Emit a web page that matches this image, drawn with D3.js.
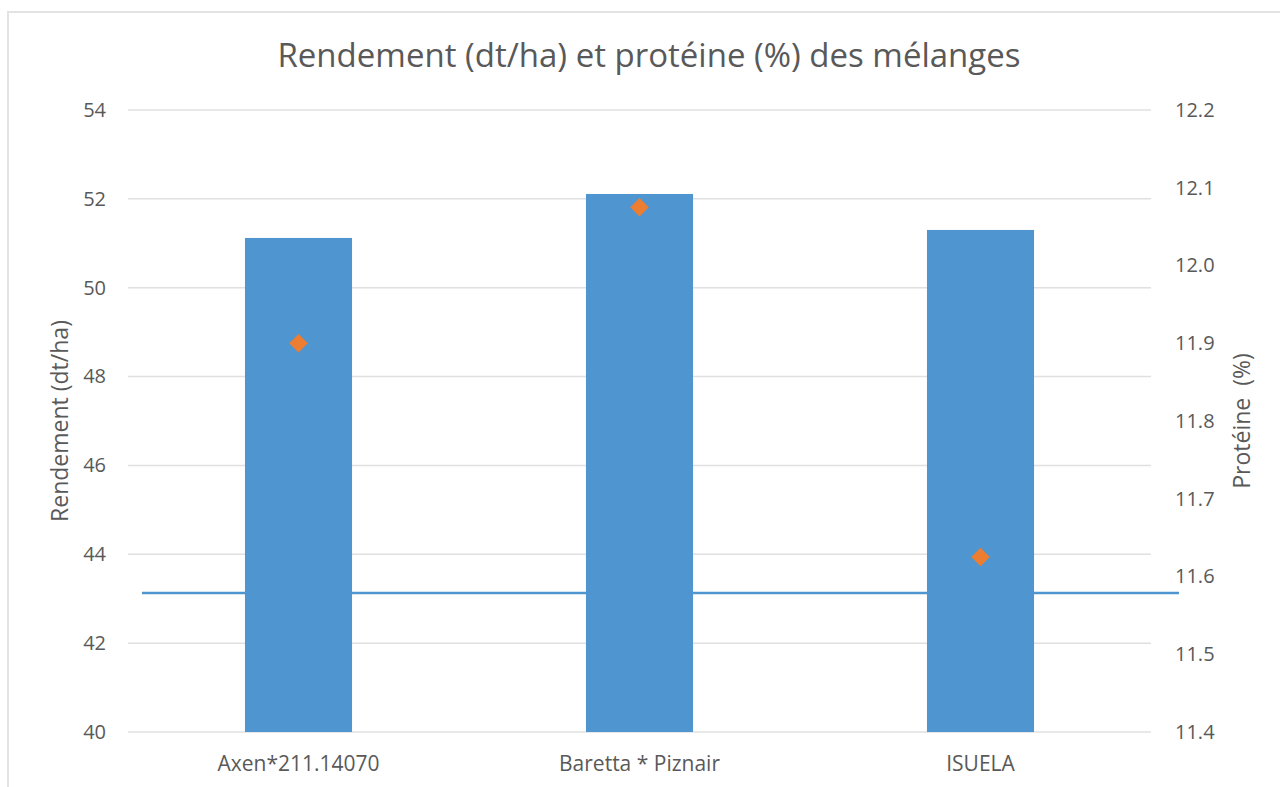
<!DOCTYPE html>
<html>
<head>
<meta charset="utf-8">
<script src="https://cdn.jsdelivr.net/npm/d3@7"></script>
<style>
  body { margin: 0; background: #fff; }
  text { font-family: "Open Sans", Lato, sans-serif; fill: #595959; }
</style>
</head>
<body>
<div id="visualization"></div>
<script>
// chart data
const categories = ["Axen*211.14070", "Baretta * Piznair", "ISUELA"];
const rendement = [51.12, 52.11, 51.30];      // bars, left axis (dt/ha)
const proteine = [11.90, 12.075, 11.625];     // diamonds, right axis (%)
const refLine = 43.13;                        // horizontal line, left axis
const leftTicks = [40, 42, 44, 46, 48, 50, 52, 54];
const rightTicks = [11.4, 11.5, 11.6, 11.7, 11.8, 11.9, 12.0, 12.1, 12.2];

function main(){
    let width = 1280;
    let height = 787;
    let plot = {left: 128, right: 1151, top: 110, bottom: 732};
    let font = '"Open Sans", Lato, sans-serif';

    let svg = d3.select(document.getElementById('visualization'))
        .append('svg')
        .attr('width', width)
        .attr('height', height);

    // chart frame
    svg.append('rect')
        .attr('x', 8).attr('y', 12)
        .attr('width', width + 10).attr('height', height + 10)
        .attr('fill', 'none')
        .attr('stroke', '#e3e3e3')
        .attr('stroke-width', 2);

    let x = d3.scaleBand()
        .domain(categories)
        .range([plot.left, plot.right])
        .padding(0);

    let yLeft = d3.scaleLinear().domain([40, 54]).range([plot.bottom, plot.top]);
    let yRight = d3.scaleLinear().domain([11.4, 12.2]).range([plot.bottom, plot.top]);

    // gridlines
    svg.append('g')
        .selectAll('line')
        .data(leftTicks)
        .enter()
        .append('line')
            .attr('x1', plot.left)
            .attr('x2', plot.right)
            .attr('y1', (d) => yLeft(d))
            .attr('y2', (d) => yLeft(d))
            .attr('stroke', '#e0e0e0')
            .attr('stroke-width', 1.5);

    // left axis labels
    let leftAxis = d3.axisLeft(yLeft).tickValues(leftTicks).tickSize(0).tickPadding(22);
    let gl = svg.append('g').attr('transform', `translate(${plot.left},0)`).call(leftAxis);
    gl.select('.domain').remove();
    gl.selectAll('text').attr('font-size', '20px').style('fill', '#595959')
        .attr('font-family', font);

    // right axis labels
    let rightAxis = d3.axisRight(yRight).tickValues(rightTicks).tickSize(0)
        .tickPadding(24).tickFormat(d3.format('.1f'));
    let gr = svg.append('g').attr('transform', `translate(${plot.right},0)`).call(rightAxis);
    gr.select('.domain').remove();
    gr.selectAll('text').attr('font-size', '20px').style('fill', '#595959')
        .attr('font-family', font);

    // bars
    let bw = x.bandwidth() * 0.314;
    svg.append('g')
        .selectAll('rect')
        .data(categories)
        .enter()
        .append('rect')
            .attr('x', (d) => x(d) + x.bandwidth() / 2 - bw / 2)
            .attr('y', (d, i) => yLeft(rendement[i]))
            .attr('width', bw)
            .attr('height', (d, i) => plot.bottom - yLeft(rendement[i]))
            .style('fill', '#4f95cf');

    // reference line
    svg.append('line')
        .attr('x1', plot.left + 14)
        .attr('x2', plot.right + 28)
        .attr('y1', yLeft(refLine))
        .attr('y2', yLeft(refLine))
        .attr('stroke', '#4f95cf')
        .attr('stroke-width', 2.5);

    // protein diamonds
    svg.append('g')
        .selectAll('path')
        .data(categories)
        .enter()
        .append('path')
            .attr('d', d3.symbol().type(d3.symbolDiamond2).size(220))
            .attr('transform', (d, i) => `translate(${x(d) + x.bandwidth() / 2},${yRight(proteine[i])})`)
            .style('fill', '#ed7d31');

    // category labels
    svg.append('g')
        .selectAll('text')
        .data(categories)
        .enter()
        .append('text')
            .attr('x', (d) => x(d) + x.bandwidth() / 2)
            .attr('y', 771)
            .attr('text-anchor', 'middle')
            .attr('font-size', '21px')
            .text((d) => d);

    // title
    svg.append('text')
        .attr('x', 649)
        .attr('y', 67)
        .attr('text-anchor', 'middle')
        .attr('font-size', '33px')
        .text('Rendement (dt/ha) et protéine (%) des mélanges');

    // axis titles
    svg.append('text')
        .attr('transform', 'translate(68,421) rotate(-90)')
        .attr('text-anchor', 'middle')
        .attr('font-size', '23px')
        .text('Rendement (dt/ha)');

    svg.append('text')
        .attr('transform', 'translate(1250,421) rotate(-90)')
        .attr('text-anchor', 'middle')
        .attr('font-size', '23px')
        .style('white-space', 'pre')
        .text('Protéine  (%)');
}

window.onload = () => {
    main();
}
</script>
</body>
</html>
